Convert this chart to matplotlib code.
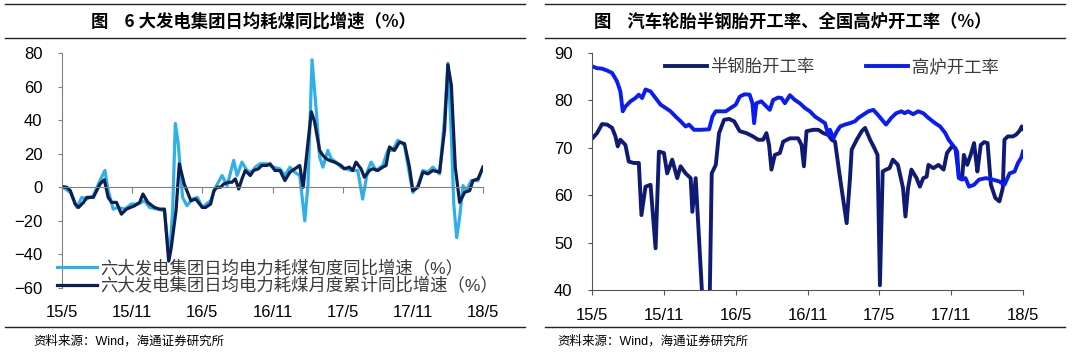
import matplotlib
matplotlib.use('Agg')
import matplotlib.pyplot as plt
from matplotlib.lines import Line2D

# ---- data (x = months since 2015/5) ----
tick_pos = [0, 6, 12, 18, 24, 30, 36]
tick_labels = ['15/5', '15/11', '16/5', '16/11', '17/5', '17/11', '18/5']

# 六大发电集团日均电力耗煤旬度同比增速
m_xun = [0.0, 0.71, 1.27, 1.69, 2.12, 2.68, 3.25, 3.67, 3.95, 4.38, 4.80, 5.37, 5.93, 6.50,
         7.06, 7.49, 8.19, 8.76, 9.18, 9.46, 9.69, 9.94, 10.31, 10.68, 11.16, 11.58, 12.0,
         12.71, 13.13, 13.69, 14.12, 14.68, 14.97, 15.39, 15.81, 16.24, 16.52, 16.94, 17.51,
         18.07, 18.64, 19.06, 19.49, 19.91, 20.33, 20.76, 21.04, 21.38, 21.75, 22.03, 22.31,
         22.73, 23.02, 23.44, 23.86, 24.29, 24.71, 25.29, 25.71, 26.14, 26.43, 26.86, 27.43,
         27.86, 28.29, 28.71, 29.29, 29.71, 30.0, 30.43, 30.86, 31.29, 31.71, 32.29, 32.7,
         33.0, 33.3, 33.5, 33.75, 34.0, 34.29, 34.57, 35.0, 35.57, 36.0]
xun = [0.4, -3, -12, -6, -7, -5, 4, 10, -2, -13, -12, -13, -10, -10, -8, -12, -13, -14, -43,
       -14, 38, 26, -6, -11, -7, -6, -12, -8, 0, 7, 1, 16, 7, 15, 10, 9, 12, 14, 14, 12, 11,
       7, 12, 9, 7, -20, 2, 76, 45, 18, 12, 22, 17, 15, 12, 11, 10, 10, -7, 10, 15, 10, 13,
       22, 22, 28, 25, 8, -3, 1, 10, 9, 12, 8, 40, 74, 30, -10, -30, -18, 1, -2, 4, 4, 12]

# 六大发电集团日均电力耗煤月度累计同比增速
m_yue = [0.0, 0.42, 0.71, 1.13, 1.41, 1.84, 2.12, 2.68, 2.97, 3.25, 3.62, 3.95, 4.24, 4.66,
         5.08, 5.51, 6.21, 6.64, 6.92, 7.34, 7.91, 8.33, 8.76, 9.12, 9.32, 9.75, 10.03, 10.45,
         11.02, 11.44, 12.0, 12.28, 12.71, 12.99, 13.27, 13.55, 13.84, 14.26, 14.54, 14.82,
         15.11, 15.39, 15.67, 16.10, 16.38, 16.80, 17.08, 17.51, 17.79, 18.21, 18.64, 19.06,
         19.49, 19.91, 20.33, 20.62, 20.90, 21.32, 21.60, 22.03, 22.31, 22.59, 22.88, 23.30,
         23.86, 24.14, 24.57, 24.86, 25.14, 25.57, 25.86, 26.29, 26.57, 27.0, 27.43, 27.71,
         28.0, 28.43, 28.86, 29.29, 29.71, 30.0, 30.43, 30.86, 31.29, 31.71, 32.29, 32.71,
         33.0, 33.29, 33.63, 34.0, 34.43, 34.86, 35.14, 35.57, 36.0]
yue = [0.4, 0, -2, -10, -12, -9, -6, -6, -2, 2, 4.5, -6, -9, -9, -16, -13, -11, -9, -4, -9,
       -12, -13, -13, -44, -37, -14, 14, 2, -8, -7, -12, -12, -10, -2, 0, 0, 2, 3, 3, 5, -1,
       5, 10, 7, 10, 11, 13, 13, 14, 10, 10, 4, 9, 11, 13, 0, 18, 45, 39, 22, 19, 17, 16, 15,
       13, 11, 12, 10, 15, 11, 6, 10, 11, 10, 12, 13, 24, 22, 27, 26, 12, -2, 0, 9, 8, 10, 9,
       34, 73, 61, 12, -9, -3, -2, 4, 5, 12]

# 半钢胎开工率
m_bg = [0, 0.42, 0.84, 1.26, 1.68, 1.96, 2.15, 2.37, 2.79, 3.07, 3.49, 3.91, 4.13, 4.47,
        4.89, 5.31, 5.59, 6.01, 6.28, 6.70, 7.12, 7.40, 7.82, 8.24, 8.38, 8.66, 9.22, 9.83,
        10.0, 10.34, 10.61, 11.03, 11.45, 11.87, 12.34, 12.89, 13.45, 13.87, 14.29, 14.57,
        14.79, 14.99, 15.27, 15.69, 15.97, 16.53, 17.22, 17.50, 17.70, 17.92, 18.48, 18.90,
        19.32, 19.74, 20.02, 20.30, 20.72, 21.27, 21.55, 21.69, 22.11, 22.53, 22.81, 23.23,
        23.65, 23.85, 24.05, 24.28, 24.56, 24.85, 25.13, 25.55, 25.98, 26.18, 26.40, 26.68,
        27.11, 27.39, 27.67, 27.95, 28.10, 28.52, 28.94, 29.37, 29.65, 30.07, 30.36, 30.64,
        30.92, 31.06, 31.34, 31.63, 31.91, 32.05, 32.19, 32.47, 32.76, 33.04, 33.32, 33.69,
        34.03, 34.31, 34.45, 34.73, 35.16, 35.44, 35.72, 35.9, 36.0]
bg = [71.9, 73.1, 75.0, 74.9, 74.2, 72.4, 70.3, 71.7, 70.6, 67.1, 66.8, 66.8, 55.8, 61.8,
      62.2, 48.8, 69.2, 68.9, 64.6, 67.5, 63.6, 66.1, 64.6, 63.6, 56.5, 63.6, 38, 38, 64.6,
      66.4, 73.1, 75.9, 76.1, 75.6, 73.5, 73.1, 72.4, 71.7, 71.7, 73.1, 70.6, 65.4, 68.5,
      68.9, 71.3, 72.0, 72.0, 70.6, 66.1, 73.5, 73.8, 73.8, 73.1, 72.7, 71.7, 71.3, 63.6,
      54.1, 63.6, 69.6, 71.7, 73.5, 74.2, 71.7, 69.6, 68.5, 41.0, 65.0, 65.4, 65.7, 67.5,
      66.4, 61.5, 55.5, 61.5, 65.4, 63.6, 61.8, 63.6, 63.9, 66.4, 65.7, 66.4, 65.4, 68.9,
      70.3, 69.9, 63.9, 63.6, 68.5, 66.4, 68.5, 71.0, 68.0, 65.0, 70.6, 71.2, 71.0, 62.2,
      59.4, 58.7, 61.5, 71.7, 72.4, 72.4, 72.8, 73.6, 74.5, 74.0]

# 高炉开工率
m_gl = [0, 0.42, 0.84, 1.26, 1.68, 2.09, 2.37, 2.57, 2.79, 3.21, 3.63, 3.91, 4.19, 4.47,
        4.89, 5.31, 5.73, 6.15, 6.56, 6.98, 7.40, 7.82, 8.10, 8.52, 9.08, 9.78, 10.06, 10.34,
        10.75, 11.17, 11.59, 12.01, 12.34, 12.75, 13.17, 13.40, 13.54, 13.73, 14.15, 14.57,
        14.85, 15.13, 15.55, 15.83, 16.11, 16.53, 16.94, 17.36, 17.78, 18.20, 18.62, 19.04,
        19.46, 19.74, 19.88, 20.16, 20.44, 20.72, 21.13, 21.55, 21.97, 22.25, 22.67, 23.09,
        23.51, 23.93, 24.56, 24.99, 25.41, 25.84, 26.12, 26.40, 26.82, 27.25, 27.67, 28.10,
        28.66, 29.08, 29.51, 29.79, 30.21, 30.50, 30.64, 30.92, 31.20, 31.49, 31.91, 32.33,
        32.90, 33.46, 34.03, 34.45, 34.88, 35.30, 35.58, 35.85, 36.0]
gl = [87.2, 86.8, 86.7, 86.3, 85.8, 84.0, 81.9, 77.7, 78.7, 79.8, 80.5, 81.2, 80.5, 82.3,
      81.9, 80.5, 79.1, 78.4, 77.7, 76.6, 75.6, 74.5, 74.9, 73.8, 73.8, 73.9, 76.6, 77.7,
      77.7, 77.7, 78.4, 79.1, 80.8, 81.3, 81.2, 79.4, 75.2, 79.4, 79.8, 78.7, 78.0, 80.1,
      80.6, 80.5, 79.4, 81.1, 80.1, 79.4, 78.4, 77.7, 76.6, 75.9, 75.2, 72.7, 73.8, 72.0,
      73.4, 74.5, 74.9, 75.2, 75.6, 76.3, 77.0, 77.7, 78.0, 76.8, 74.9, 76.3, 77.3, 77.7,
      77.3, 77.7, 77.1, 77.7, 77.3, 76.3, 75.2, 74.5, 73.1, 71.7, 70.3, 69.2, 63.6, 63.3,
      63.6, 61.8, 62.2, 63.3, 63.6, 63.3, 62.9, 62.2, 64.6, 65.0, 66.8, 67.9, 69.2]

# ---- style ----
W, H = 1080, 360
LIGHT = '#2fb0ea'
DARK = '#0c1f52'
NAVY = '#0f1a75'
BLUE = '#0a1cf5'
AXIS_GRAY = '#808080'
TEXT_GRAY = '#3a3a3a'

plt.rcParams['font.family'] = ['Liberation Sans', 'Noto Sans CJK SC']


def box(x0, y0, x1, y1):
    # pixel box (top-left origin) -> figure fraction rect
    return [x0 / W, 1 - y1 / H, (x1 - x0) / W, (y1 - y0) / H]


fig = plt.figure(figsize=(W / 100, H / 100), dpi=100)

# ---- left panel ----
ax1 = fig.add_axes(box(62, 53, 483, 288))
ax1.plot(m_xun, xun, color=LIGHT, lw=2.3, label='六大发电集团日均电力耗煤旬度同比增速（%）')
ax1.plot(m_yue, yue, color=DARK, lw=2.3, label='六大发电集团日均电力耗煤月度累计同比增速（%）')
ax1.set_xlim(0, 36)
ax1.set_ylim(-60, 80)
ax1.set_yticks(range(-60, 81, 20))
ax1.set_xticks(tick_pos)
for s in ['top', 'right']:
    ax1.spines[s].set_visible(False)
ax1.spines['bottom'].set_position(('data', 0))
ax1.spines['bottom'].set_color(AXIS_GRAY)
ax1.spines['left'].set_color(AXIS_GRAY)
ax1.tick_params(axis='x', direction='out', length=4.5, color=AXIS_GRAY, labelbottom=False)
ax1.tick_params(axis='y', direction='out', length=3, color=AXIS_GRAY, pad=11, labelsize=12)
sec = ax1.secondary_xaxis('bottom')
sec.set_xticks(tick_pos, tick_labels)
sec.tick_params(length=0, pad=12, labelsize=12)
sec.spines['bottom'].set_visible(False)
ax1.legend(loc='upper left', bbox_to_anchor=(57 / W, 1 - 259 / H), bbox_transform=fig.transFigure,
           frameon=False, fontsize=12.5, handlelength=2.3, handletextpad=0.2, labelspacing=0.05,
           borderpad=0, borderaxespad=0, labelcolor=TEXT_GRAY)

# ---- right panel ----
ax2 = fig.add_axes(box(592, 53, 1023, 290))
ax2.plot(m_bg, bg, color=NAVY, lw=2.8, label='半钢胎开工率')
ax2.plot(m_gl, gl, color=BLUE, lw=2.8, label='高炉开工率')
ax2.set_xlim(0, 36)
ax2.set_ylim(40, 90)
ax2.set_yticks(range(40, 91, 10))
ax2.set_xticks(tick_pos, tick_labels)
for s in ['top', 'right']:
    ax2.spines[s].set_visible(False)
ax2.spines['bottom'].set_color('#555555')
ax2.spines['left'].set_color('#555555')
ax2.tick_params(axis='x', direction='out', length=3.5, color='#555555', pad=9.5, labelsize=12)
ax2.tick_params(axis='y', direction='out', length=3, color='#555555', pad=11, labelsize=12)
ax2.legend(loc='upper left', bbox_to_anchor=(665 / W, 1 - 58 / H), bbox_transform=fig.transFigure,
           ncol=2, frameon=False, fontsize=12.5, handlelength=2.4, handletextpad=0.2,
           columnspacing=3.0, borderpad=0, borderaxespad=0, labelcolor=TEXT_GRAY)

# ---- frame lines, titles, sources ----
for x0, x1 in [(5, 525), (545, 1065)]:
    for y in [4, 38, 327]:
        fig.add_artist(Line2D([x0 / W, x1 / W], [1 - y / H, 1 - y / H], color='#222222', lw=1.0))

cjk = ['Noto Sans CJK SC', 'Liberation Sans']
fig.text(253 / W, 1 - 22 / H, '图    6 大发电集团日均耗煤同比增速（%）', ha='center', va='center',
         fontsize=12.5, fontweight='bold', family=cjk)
fig.text(793 / W, 1 - 22 / H, '图    汽车轮胎半钢胎开工率、全国高炉开工率（%）', ha='center', va='center',
         fontsize=12.5, fontweight='bold', family=cjk)
fig.text(33 / W, 1 - 341 / H, '资料来源：Wind，海通证券研究所', ha='left', va='center', fontsize=9)
fig.text(557 / W, 1 - 341 / H, '资料来源：Wind，海通证券研究所', ha='left', va='center', fontsize=9)

fig.savefig('out.png', dpi=100)
